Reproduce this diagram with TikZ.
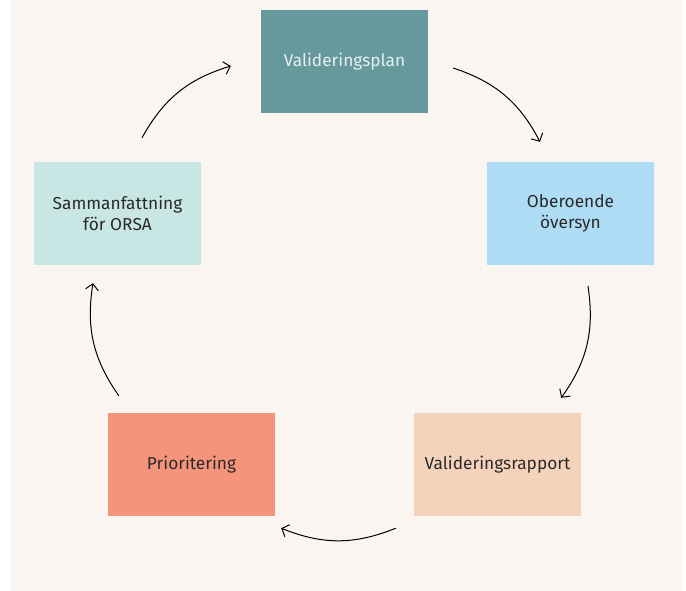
\documentclass[tikz,border=0pt]{standalone}
\usepackage{fontspec}
\setmainfont{Fira Sans}
\usetikzlibrary{arrows.meta}

\definecolor{bg}{HTML}{FAF5F1}
\definecolor{ink}{HTML}{2A2A2A}
\definecolor{plancol}{HTML}{66999C}
\definecolor{plantext}{HTML}{E4EFEF}
\definecolor{oversyncol}{HTML}{AEDCF5}
\definecolor{rapportcol}{HTML}{F4D3BA}
\definecolor{priocol}{HTML}{F4957B}
\definecolor{orsacol}{HTML}{C8E6E3}

\begin{document}
\begin{tikzpicture}[x=1pt, y=1pt,
        box/.style={minimum width=167pt, minimum height=103pt, inner sep=0pt,
            align=center, text=ink, font=\fontsize{17.3}{21.5}\selectfont},
        arr/.style={-{Straight Barb[length=6pt,width=13pt]}, line width=1pt, bend left=22}]
        \useasboundingbox (0,0) rectangle (686,-591);
        \fill[bg] (11,0) rectangle (682,-591);

        % the five steps
        \node[box, fill=plancol, text=plantext] (plan) at (344.5,-61.5) {Valideringsplan};
        \node[box, fill=oversyncol] (oversyn) at (570.5,-213.5) {Oberoende\\översyn};
        \node[box, fill=rapportcol] (rapport) at (497.5,-464.5) {Valideringsrapport};
        \node[box, fill=priocol] (prio) at (191.5,-464.5) {Prioritering};
        \node[box, fill=orsacol] (orsa) at (117.5,-213.5) {Sammanfattning\\för ORSA};

        % the cycle
        \draw[arr] ([shift={(24.5pt,24pt)}]orsa.north) to ([shift={(-30pt,-4.5pt)}]plan.west);
        \draw[arr] ([shift={(25pt,-6.5pt)}]plan.east) to ([shift={(-30.5pt,20pt)}]oversyn.north);
        \draw[arr] ([shift={(17.5pt,-21pt)}]oversyn.south) to ([shift={(-20pt,15pt)}]rapport.north east);
        \draw[arr] ([shift={(-18pt,-12pt)}]rapport.south west) to ([shift={(6pt,-12pt)}]prio.south east);
        \draw[arr] ([shift={(11pt,17pt)}]prio.north west) to ([shift={(-24.5pt,-18pt)}]orsa.south);
\end{tikzpicture}
\end{document}
